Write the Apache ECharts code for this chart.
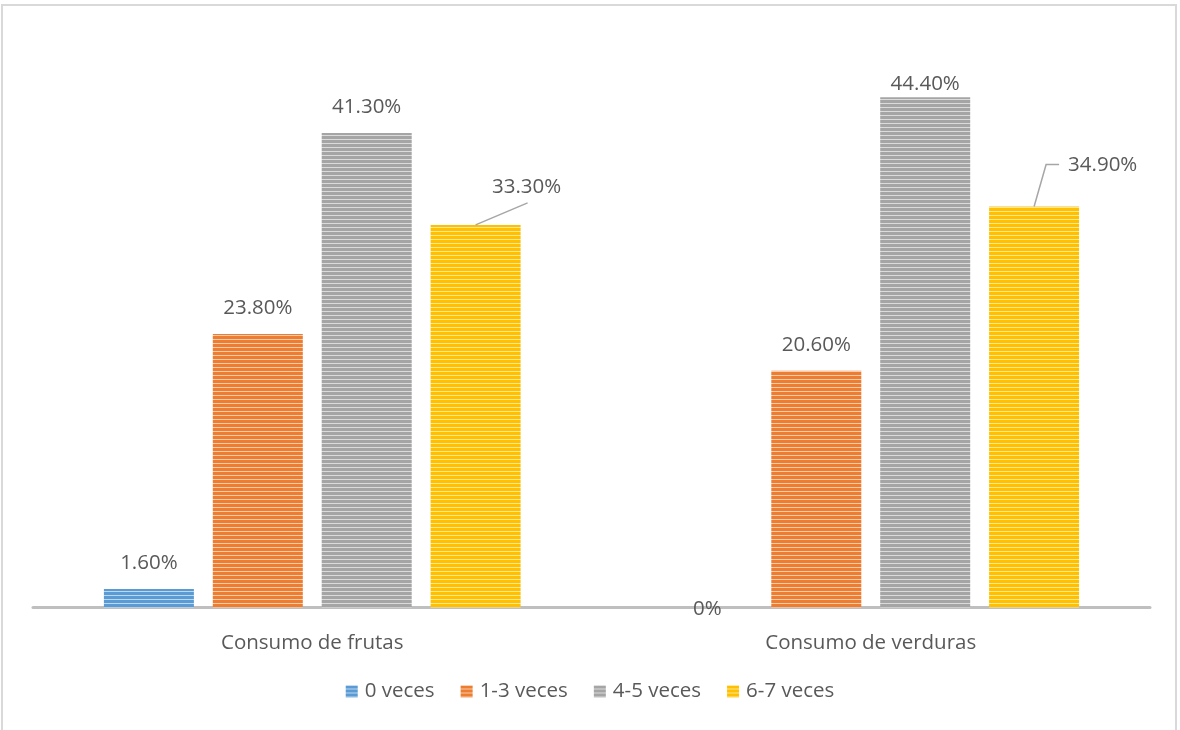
<!DOCTYPE html>
<html>
<head>
<meta charset="utf-8">
<script src="https://cdn.jsdelivr.net/npm/echarts@6/dist/echarts.min.js"></script>
<style>
  html, body { margin: 0; padding: 0; background: #fff; }
  #frame { position: absolute; left: 1px; top: 4px; width: 1176px; height: 740px;
           border: 2px solid #d9d9d9; border-bottom: none; box-sizing: border-box; }
  #chart { position: absolute; left: 0; top: 0; width: 1180px; height: 730px; }
</style>
</head>
<body>
<div id="frame"></div>
<div id="chart"></div>
<script>
// Frequency of weekly consumption (percent of respondents)
const categories = ['Consumo de frutas', 'Consumo de verduras'];
const seriesNames = ['0 veces', '1-3 veces', '4-5 veces', '6-7 veces'];
const vals0 = [1.6, 0];      // 0 veces
const vals13 = [23.8, 20.6]; // 1-3 veces
const vals45 = [41.3, 44.4]; // 4-5 veces
const vals67 = [33.3, 34.9]; // 6-7 veces
const colors = ['#5B9BD5', '#ED7D31', '#A5A5A5', '#FFC000'];

const FONT = '"Open Sans", "Noto Sans", sans-serif';
const TEXT = '#595959';
const FS = 20.5;

// Horizontal-stripe fill: solid color with a pale line every few pixels
function stripes(hex) {
  const c = document.createElement('canvas');
  c.width = 8; c.height = 4;
  const g = c.getContext('2d');
  g.fillStyle = hex; g.fillRect(0, 0, 8, 4);
  g.fillStyle = 'rgba(255,255,255,0.6)'; g.fillRect(0, 3, 8, 1);
  return { image: c, repeat: 'repeat' };
}

function fmt(p) { return p.value === 0 ? '0%' : p.value.toFixed(2) + '%'; }

// Leader lines for the moved labels, filled in from the bar layout
const leaders = {};

const chart = echarts.init(document.getElementById('chart'), null, { renderer: 'canvas' });

const allVals = [vals0, vals13, vals45, vals67];
const series = allVals.map((arr, i) => {
  const s = {
    name: seriesNames[i],
    type: 'bar',
    barWidth: 90,
    barGap: '21%',
    itemStyle: { color: stripes(colors[i]) },
    label: {
      show: true, position: 'top', distance: 15,
      formatter: fmt, color: TEXT, fontSize: FS, fontFamily: FONT
    },
    data: arr.map((v, j) => {
      if (v === 0) return { value: v, label: { offset: [0, 27] } };
      // tallest bar: label tucked closer to the bar top
      if (i === 2 && j === 1) return { value: v, label: { offset: [0, 12] } };
      return v;
    })
  };
  if (i === 3) {
    // Labels of the last series sit up and to the right with a leader line
    s.labelLayout = function (p) {
      const r = p.rect;
      const cx = r.x + r.width / 2;
      const top = r.y;
      if (p.dataIndex === 0) {
        leaders[0] = [[cx, top], [cx + 52, top - 22]];
        return { x: cx + 51, y: top - 38, align: 'center', verticalAlign: 'middle' };
      }
      leaders[1] = [[cx, top], [cx + 12, top - 42], [cx + 25, top - 42]];
      return { x: cx + 34, y: top - 41, align: 'left', verticalAlign: 'middle' };
    };
  }
  return s;
});

chart.setOption({
  animation: false,
  backgroundColor: 'transparent',
  grid: { left: 33, right: 30, top: 33, bottom: 122.5, containLabel: false },
  legend: {
    bottom: 23, left: 'center',
    itemWidth: 12, itemHeight: 12, itemGap: 26,
    icon: 'rect',
    textStyle: { color: TEXT, fontSize: FS, fontFamily: FONT, padding: [0, 0, 0, 2] },
    data: seriesNames
  },
  xAxis: {
    type: 'category',
    data: categories,
    axisLine: { show: true, lineStyle: { color: '#bfbfbf', width: 3 } },
    axisTick: { show: false },
    axisLabel: { color: TEXT, fontSize: FS, fontFamily: FONT, margin: 25 }
  },
  yAxis: {
    type: 'value', min: 0, max: 50, show: false,
    splitLine: { show: false }
  },
  series: series
});

// Draw the leader lines once the bars have been laid out
chart.setOption({
  graphic: {
    elements: Object.keys(leaders).map(k => ({
      type: 'polyline',
      silent: true,
      z: 10,
      shape: { points: leaders[k] },
      style: { stroke: '#a6a6a6', lineWidth: 1.5, fill: null }
    }))
  }
});
</script>
</body>
</html>
